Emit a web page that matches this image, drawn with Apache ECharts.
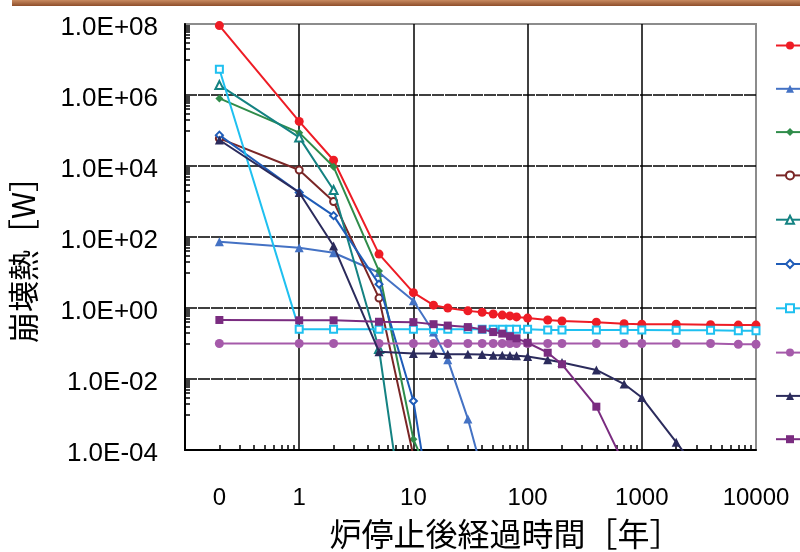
<!DOCTYPE html>
<html><head><meta charset="utf-8">
<script src="https://cdn.jsdelivr.net/npm/echarts@6/dist/echarts.min.js"></script>
<style>html,body{margin:0;padding:0;background:#fff}#c{width:800px;height:552px}</style>
</head><body><div id="c"></div><script>
// elapsed time after reactor shutdown [years]; t = 0 is drawn at 0.2 on the log axis
const timeYears = [0,1,2,5,10,15,20,30,40,50,60,70,80,100,150,200,400,700,1000,2000,4000,7000,10000];
const ZERO_POSITION = 0.2;
const xLabelYears = [0.2,1,10,100,1000,10000];
const xLabelTexts = ['0','1','10','100','1000','10000'];
const yLabelExponents = [-4,-2,0,2,4,6,8];

const seriesNames = ['系列1','系列2','系列3','系列4','系列5','系列6','系列7','系列8','系列9','系列10'];
// decay heat [W]
const heatRed    = [9e7,1.8e5,1.45e4,33,2.7,1.2,1.0,0.83,0.76,0.68,0.63,0.6,0.56,0.52,0.46,0.43,0.40,0.36,0.35,0.35,0.34,0.33,0.33];
const heatBlueT  = [74,50,36,10,1.6,0.21,0.035,7.5e-4,2.5e-5];
const heatGreen  = [8e5,8.7e4,9.5e3,11,2e-4,1e-5];
const heatDkRed  = [6e4,7.7e3,1e3,1.9,6.8e-5];
const heatTeal   = [1.9e6,6.4e4,2.1e3,0.07,1.3e-8];
const heatBlueD  = [7.4e4,1.8e3,400,4.7,2.4e-3,8e-7];
const heatCyan   = [5.3e6,0.25,0.25,0.25,0.25,0.25,0.25,0.25,0.25,0.25,0.25,0.25,0.25,0.25,0.24,0.24,0.24,0.24,0.24,0.235,0.235,0.23,0.23];
const heatLilac  = [0.1,0.1,0.1,0.1,0.1,0.1,0.1,0.1,0.1,0.1,0.1,0.1,0.1,0.1,0.1,0.1,0.1,0.1,0.1,0.1,0.1,0.095,0.095];
const heatNavy   = [5.4e4,1.8e3,56,0.059,0.052,0.052,0.05,0.05,0.049,0.047,0.047,0.046,0.045,0.043,0.035,0.029,0.018,0.0072,0.003,1.66e-4,9e-6];
const heatPurple = [0.46,0.45,0.45,0.41,0.4,0.35,0.32,0.29,0.25,0.21,0.19,0.16,0.14,0.105,0.055,0.026,1.66e-3,4e-5];

const styles = [
  {color:'#EE1C25', symbol:'circle', size:9},
  {color:'#4472C4', symbol:'triangle', size:9},
  {color:'#2F8C4A', symbol:'diamond', size:8},
  {color:'#7A2626', symbol:'emptyCircle', size:7},
  {color:'#148282', symbol:'emptyTriangle', size:8},
  {color:'#1F5CB8', symbol:'emptyDiamond', size:7},
  {color:'#1FC0F0', symbol:'emptyRect', size:7},
  {color:'#A55AAA', symbol:'circle', size:9},
  {color:'#2B2B5C', symbol:'triangle', size:9},
  {color:'#7A2C80', symbol:'rect', size:8}
];
const allValues = [heatRed,heatBlueT,heatGreen,heatDkRed,heatTeal,heatBlueD,heatCyan,heatLilac,heatNavy,heatPurple];

const lg = v => Math.log10(v);
const xPos = t => lg(t === 0 ? ZERO_POSITION : t);

// log-scale minor tick positions (k * 10^n)
const xMinor = [];
for (let m = -1; m <= 3; m++) for (let k = 2; k <= 9; k++) xMinor.push(lg(k * Math.pow(10, m)));
const yMinor = [];
for (let n = -4; n < 8; n += 2) for (let k = 1; k <= 9; k++) yMinor.push(lg(k * Math.pow(10, n + 1)));

const font = "'Liberation Sans', Arial, 'Noto Sans CJK JP', sans-serif";
const jpFont = "'Noto Sans CJK JP', sans-serif";

const series = allValues.map((vals, i) => ({
  name: seriesNames[i],
  type: 'line',
  xAxisIndex: 0, yAxisIndex: 0,
  data: vals.map((v, j) => [xPos(timeYears[j]), lg(v)]),
  symbol: styles[i].symbol,
  symbolSize: styles[i].size,
  showSymbol: true,
  lineStyle: {color: styles[i].color, width: 2},
  itemStyle: {color: styles[i].color, borderWidth: styles[i].symbol.startsWith('empty') ? 2 : 0, borderColor: styles[i].color},
  emphasis: {disabled: true},
  clip: true,
  z: 3 + i
}));

const chart = echarts.init(document.getElementById('c'), null, {renderer: 'canvas'});
chart.setOption({
  animation: false,
  backgroundColor: '#fff',
  graphic: [{
    type: 'rect', left: 12, top: 0, shape: {width: 788, height: 6},
    style: {fill: new echarts.graphic.LinearGradient(0, 0, 0, 1, [{offset: 0, color: '#C88A60'}, {offset: 1, color: '#8E4E2A'}])}
  }],
  grid: {left: 185, right: 44, top: 24, bottom: 102, show: true, borderColor: '#8c8c8c', borderWidth: 2, containLabel: false, outerBoundsMode: 'none'},
  legend: {
    orient: 'vertical', left: 775, top: 40.5, padding: 0, itemWidth: 28, itemHeight: 10, itemGap: 34.3,
    data: seriesNames, formatter: () => '', selectedMode: false
  },
  xAxis: [{
    type: 'value', min: -1, max: 4, interval: 1, position: 'bottom',
    axisLine: {show: true, onZero: false, lineStyle: {color: '#000', width: 2}},
    axisTick: {show: false},
    splitLine: {show: true, showMinLine: false, showMaxLine: false, lineStyle: {color: '#000', width: 1.5}},
    axisLabel: {
      customValues: xLabelYears.map(lg), margin: 36, fontSize: 24, color: '#000', fontFamily: font,
      formatter: v => { const i = xLabelYears.findIndex(y => Math.abs(lg(y) - v) < 1e-6); return i >= 0 ? xLabelTexts[i] : ''; }
    },
    name: '炉停止後経過時間［年］', nameLocation: 'middle', nameGap: 68,
    nameTextStyle: {fontSize: 32, color: '#000', fontFamily: jpFont, padding: [0, 0, 0, 70]}
  }, {
    type: 'value', min: -1, max: 4, position: 'bottom', gridIndex: 0,
    axisLine: {show: false, onZero: false}, axisLabel: {show: false}, splitLine: {show: false},
    axisTick: {show: true, inside: true, length: 5, customValues: xMinor, lineStyle: {color: '#000', width: 1.5}}
  }],
  yAxis: [{
    type: 'value', min: -4, max: 8, interval: 2, position: 'left',
    axisLine: {show: true, onZero: false, lineStyle: {color: '#000', width: 2}},
    axisTick: {show: false},
    splitLine: {show: true, showMinLine: false, showMaxLine: false, lineStyle: {color: '#000', width: 1.5, type: [12, 1]}},
    axisLabel: {
      margin: 27, color: '#000',
      formatter: v => { const e = Math.round(v); return '{t|1.0E' + (e < 0 ? '-' : '+') + String(Math.abs(e)).padStart(2, '0') + '}'; },
      rich: {t: {fontSize: 26, color: '#000', fontFamily: font, padding: [8, 0, 0, 0]}}
    },
    name: '崩壊熱［W］', nameLocation: 'middle', nameGap: 146, nameRotate: 90,
    nameTextStyle: {fontSize: 31, color: '#000', fontFamily: jpFont, padding: [0, 30, 0, 0]}
  }, {
    type: 'value', min: -4, max: 8, position: 'left', gridIndex: 0,
    axisLine: {show: false, onZero: false}, axisLabel: {show: false}, splitLine: {show: false},
    axisTick: {show: true, inside: true, length: 5, customValues: yMinor, lineStyle: {color: '#000', width: 1.5}}
  }],
  series: series
});
</script></body></html>
